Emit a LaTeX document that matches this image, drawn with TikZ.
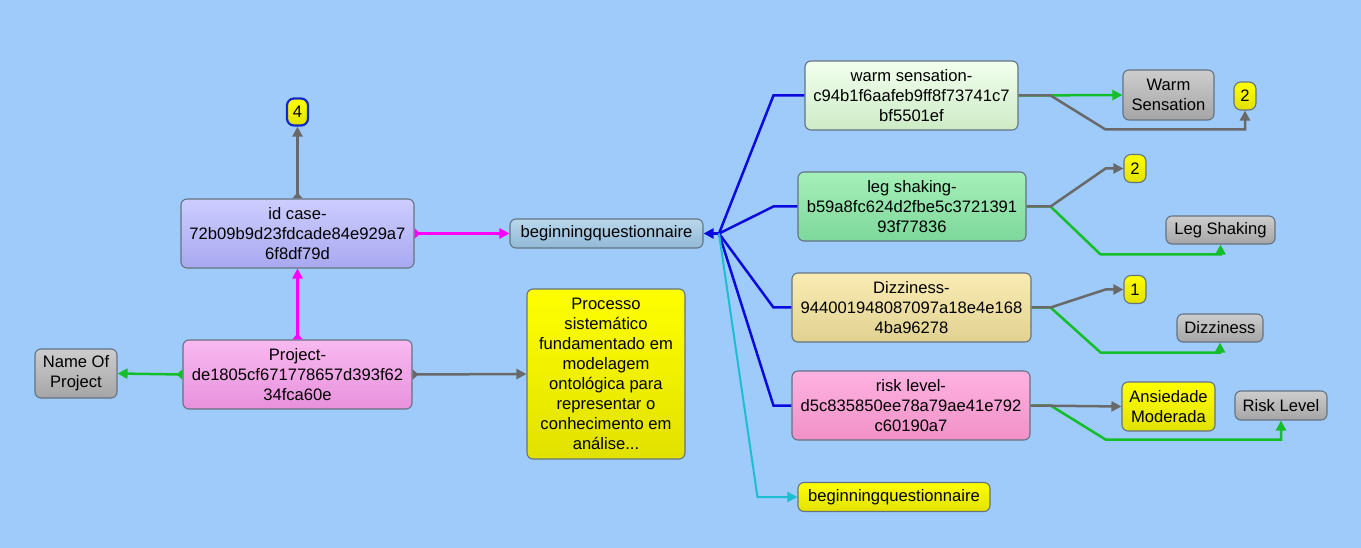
\documentclass[tikz,border=0pt]{standalone}
\usepackage{fontspec}
\setmainfont{Liberation Sans}
\usetikzlibrary{arrows.meta}
\definecolor{bg}{RGB}{158,203,250}
\definecolor{bord}{RGB}{100,115,130}
\definecolor{lgray}{RGB}{105,105,105}
\definecolor{lgreen}{RGB}{20,190,40}
\definecolor{lblue}{RGB}{10,10,220}
\definecolor{lcyan}{RGB}{30,190,210}
\definecolor{lmag}{RGB}{255,0,255}
\tikzset{
  box/.style={draw=bord, line width=1.1pt, rounded corners=6pt, align=center, inner sep=0pt,
    font=\fontsize{16.6}{20}\selectfont},
  ybox/.style={box, top color=yellow!100, bottom color={rgb,255:red,225;green,225;blue,0}},
  gbox/.style={box, top color={rgb,255:red,205;green,205;blue,205}, bottom color={rgb,255:red,165;green,165;blue,165}},
  conn/.style={line width=2.5pt, -{Triangle[length=10pt,width=10pt]}},
  sconn/.style={line width=2.5pt, {Triangle[reversed,length=6pt,width=10pt]}-{Triangle[length=10pt,width=10pt]}},
  plain/.style={line width=2.5pt},
}
\begin{document}
\begin{tikzpicture}[x=1pt,y=-1pt]
\useasboundingbox (0,0) rectangle (1361,548);
\fill[bg] (0,0) rectangle (1361,548);

% left part
\node[box, minimum width=233, minimum height=69, top color={rgb,255:red,205;green,205;blue,255}, bottom color={rgb,255:red,168;green,168;blue,240}] (idc) at (297.5,233.5) {id case-\\72b09b9d23fdcade84e929a7\\6f8df79d};
\node[box, minimum width=229, minimum height=69, top color={rgb,255:red,248;green,185;blue,240}, bottom color={rgb,255:red,232;green,145;blue,220}] (proj) at (297.5,374.5) {Project-\\de1805cf671778657d393f62\\34fca60e};
\node[ybox, draw={rgb,255:red,20;green,40;blue,200}, line width=2.2pt, minimum width=21, minimum height=27, rounded corners=7pt] (four) at (297.5,112) {4};
\node[gbox, minimum width=82, minimum height=49] (name) at (76,373.5) {Name Of\\Project};
\node[ybox, minimum width=158, minimum height=170] (proc) at (606,374) {Processo\\sistemático\\fundamentado em\\modelagem\\ontológica para\\representar o\\conhecimento em\\análise...};
\node[box, minimum width=193, minimum height=29, top color={rgb,255:red,185;green,215;blue,235}, bottom color={rgb,255:red,145;green,185;blue,215}] (bq) at (606.5,233.5) {beginningquestionnaire};

% right column
\node[box, minimum width=213, minimum height=69, top color={rgb,255:red,242;green,255;blue,238}, bottom color={rgb,255:red,205;green,235;blue,198}] (ws) at (911.5,95.5) {warm sensation-\\c94b1f6aafeb9ff8f73741c7\\bf5501ef};
\node[box, minimum width=228, minimum height=69, top color={rgb,255:red,165;green,240;blue,185}, bottom color={rgb,255:red,125;green,215;blue,155}] (ls) at (912,206.5) {leg shaking-\\b59a8fc624d2fbe5c3721391\\93f77836};
\node[box, minimum width=239, minimum height=69, top color={rgb,255:red,250;green,235;blue,180}, bottom color={rgb,255:red,225;green,210;blue,145}] (dz) at (911.5,307.5) {Dizziness-\\944001948087097a18e4e168\\4ba96278};
\node[box, minimum width=238, minimum height=69, top color={rgb,255:red,255;green,178;blue,225}, bottom color={rgb,255:red,240;green,145;blue,200}] (rl) at (911,405.5) {risk level-\\d5c835850ee78a79ae41e792\\c60190a7};
\node[ybox, minimum width=192, minimum height=29] (by) at (894,497) {beginningquestionnaire};

% far right
\node[gbox, minimum width=91, minimum height=50] (wsn) at (1168.5,95) {Warm\\Sensation};
\node[ybox, minimum width=22, minimum height=28, rounded corners=7pt] (t2a) at (1245,96) {2};
\node[ybox, minimum width=22, minimum height=28, rounded corners=7pt] (t2b) at (1135,168.5) {2};
\node[gbox, minimum width=109, minimum height=28] (lsn) at (1220.5,230) {Leg Shaking};
\node[ybox, minimum width=22, minimum height=28, rounded corners=7pt] (t1) at (1135,289.5) {1};
\node[gbox, minimum width=86, minimum height=28] (dzn) at (1220,328) {Dizziness};
\node[ybox, minimum width=93, minimum height=49] (anm) at (1168.5,406.5) {Ansiedade\\Moderada};
\node[gbox, minimum width=92, minimum height=29] (rln) at (1281,405.5) {Risk Level};

% left connectors
\draw[sconn, lgray] (idc.north) -- (four.south);
\draw[sconn, lmag] (proj.north) -- (idc.south);
\draw[sconn, lmag] (idc.east) -- (bq.west);
\draw[sconn, lgreen] (proj.west) -- (name.east);
\draw[sconn, lgray] (proj.east) -- (proc.west);

% blue fan
\coordinate (j) at (719,233.5);
\draw[plain, lblue] (ws.west) -- ++(-31,0) -- (j);
\draw[plain, lblue] (ls.west) -- ++(-24,0) -- (j);
\draw[plain, lblue] (dz.west) -- ++(-18,0) -- (j);
\draw[plain, lblue] (rl.west) -- ++(-18,0) -- (j);
\draw[conn, lblue] (j) -- (bq.east);
\draw[conn, lcyan, line width=2pt] (j) -- ([xshift=-40]by.west) -- (by.west);

% right connectors
\draw[conn, lgreen] (ws.east) -- (wsn.west);
\draw[conn, lgray] (ws.east) -- ++(32,0) -- ++(55,34) -| (t2a.south);
\draw[conn, lgreen] (ls.east) -- ++(24,0) -- ++(50,48) -| (lsn.south);
\draw[conn, lgray] (ls.east) -- ++(24,0) -- ++(55,-38) -- (t2b.west);
\draw[conn, lgreen] (dz.east) -- ++(19,0) -- ++(50,45) -| (dzn.south);
\draw[conn, lgray] (dz.east) -- ++(19,0) -- ++(55,-18) -- (t1.west);
\draw[conn, lgreen] (rl.east) -- ++(20,0) -- ++(55,34) -| (rln.south);
\draw[conn, lgray] (rl.east) -- (anm.west);
\end{tikzpicture}
\end{document}
